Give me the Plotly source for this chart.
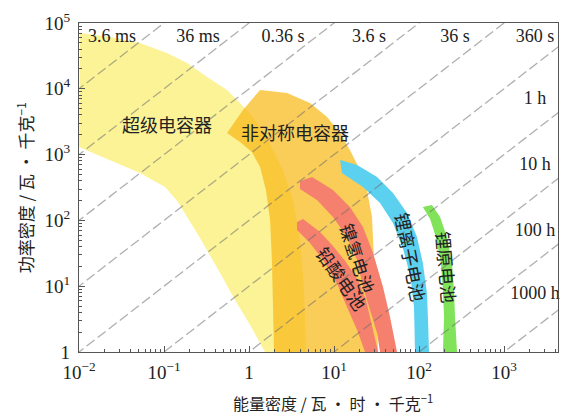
import numpy as np
import plotly.graph_objects as go

# ---------------- data ----------------
# axis ticks
energy_tickvals = [0.01, 0.1, 1, 10, 100, 1000]
energy_ticktext = ["10<sup>−2</sup>", "10<sup>−1</sup>", "1", "10<sup>1</sup>", "10<sup>2</sup>", "10<sup>3</sup>"]
power_tickvals = [1, 10, 100, 1000, 10000, 100000]
power_ticktext = ["1", "10<sup>1</sup>", "10<sup>2</sup>", "10<sup>3</sup>", "10<sup>4</sup>", "10<sup>5</sup>"]

# region outlines: energy density (Wh/kg), power density (W/kg)
supercap_E = [0.0103, 0.0232, 0.0522, 0.108, 0.187, 0.321, 0.551, 0.783, 1.11,
              1.67, 2.44, 3.30, 3.98, 4.44, 4.69,
              1.54, 1.03, 0.684, 0.456, 0.265, 0.146, 0.103, 0.0522, 0.0232, 0.01]
supercap_P = [70500, 61200, 49700, 35000, 24700, 15100, 9600, 6080, 3720,
              1670, 625, 204, 50.4, 8.75, 1,
              1, 2.57, 6.17, 15.9, 54.1, 191, 322, 525, 828, 1306]

asym_E = [1.35, 2.80, 5.22, 8.28, 11.8, 15.4, 20.2, 24.4, 28.0, 29.6, 31.2, 33.0,
          1.97, 1.92, 1.86, 1.77, 1.58, 1.35, 1.08, 0.783, 0.551, 0.849]
asym_P = [9600, 8630, 6080, 3720, 2130, 1175, 583, 290, 113, 25.0, 6.17, 1,
          1, 6.17, 25.0, 101, 290, 649, 1096, 1553, 2130, 4760]

nimh_E = [3.98, 5.51, 9.73, 15.4, 21.9, 28.8, 37.7, 45.6, 55.1,
          34.8, 32.1, 26.5, 21.9, 18.7, 14.2, 9.73, 6.31, 3.98]
nimh_P = [397, 457, 290, 160, 79.4, 32.0, 9.73, 3.40, 1,
          1, 1.95, 4.35, 9.73, 25.0, 56.0, 113, 204, 300]

leadacid_E = [3.67, 4.32, 6.84, 9.73, 13.8, 19.1, 23.8, 28.0, 33.0,
              23.2, 18.7, 14.2, 10.8, 7.43, 5.22, 3.67]
leadacid_P = [94.6, 105, 66.7, 40.8, 23.3, 12.4, 6.17, 2.57, 1,
              1, 2.16, 4.83, 11.2, 25.0, 45.4, 71.4]

liion_E = [11.8, 18.7, 32.1, 49.4, 72.3, 94.6, 111, 124, 128, 131,
           89.7, 87.3, 79.5, 65.5, 49.4, 34.8, 21.9, 12.4]
liion_P = [828, 695, 457, 261, 129, 56.0, 22.5, 7.88, 2.76, 1,
           1, 4.83, 13.8, 35.5, 91.2, 184, 322, 525]

liprim_E = [111, 142, 177, 213, 244, 258, 265, 280,
            191, 197, 191, 181, 158, 135]
liprim_P = [160, 171, 113, 56.0, 22.5, 8.75, 3.40, 1,
            1, 3.40, 8.75, 22.5, 56.0, 105]

# constant discharge-time lines (hours)
time_hours = [1e-7, 1e-6, 1e-5, 1e-4, 1e-3, 1e-2, 1e-1, 1, 10, 100, 1000]
line_E_span = [0.005, 10000]

# time labels (top row and right column)
top_labels = ["3.6 ms", "36 ms", "0.36 s", "3.6 s", "36 s", "360 s"]
top_label_E = [0.0244, 0.251, 2.51, 25.8, 265, 2320]
top_label_P = [61200] * 6
right_labels = ["1 h", "10 h", "100 h", "1000 h"]
right_label_E = [2320] * 4
right_label_P = [6760, 695, 66.7, 7.61]

# region labels
region_labels = ["超级电容器", "非对称电容器", "镍氢电池", "铅酸电池", "锂离子电池", "锂原电池"]
region_label_E = [0.108, 3.47, 19.1, 12.4, 80.5, 213]
region_label_P = [2920, 2200, 26.8, 13.3, 27.8, 19.6]
region_label_angle = [0, 0, 72, 55, 79, 85]
region_label_size = [18, 18, 18, 18, 18, 18]

# ---------------- figure ----------------
CJK = "Noto Sans CJK SC"
SERIF = "Liberation Serif"
TXT = "#222222"

fig = go.Figure()

def region(xs, ys, color):
    fig.add_trace(go.Scatter(x=xs, y=ys, mode="lines", fill="toself",
                             fillcolor=color, line=dict(width=0),
                             hoverinfo="skip", showlegend=False))

region(supercap_E, supercap_P, "#FCF396")
region(asym_E, asym_P, "rgba(248,185,24,0.72)")
region(nimh_E, nimh_P, "#F5806D")
region(leadacid_E, leadacid_P, "#F5806D")
region(liion_E, liion_P, "#5CD0EF")
region(liprim_E, liprim_P, "#80E35A")

for t in time_hours:
    ys = [e / t for e in line_E_span]
    fig.add_trace(go.Scatter(x=line_E_span, y=ys, mode="lines",
                             line=dict(color="rgba(110,110,110,0.55)", width=1.3, dash="10px,4px"),
                             hoverinfo="skip", showlegend=False))

fig.add_trace(go.Scatter(x=top_label_E, y=top_label_P, mode="text", text=top_labels,
                         textfont=dict(family=SERIF, size=18, color=TXT),
                         cliponaxis=False, hoverinfo="skip", showlegend=False))
fig.add_trace(go.Scatter(x=right_label_E, y=right_label_P, mode="text", text=right_labels,
                         textfont=dict(family=SERIF, size=18, color=TXT),
                         cliponaxis=False, hoverinfo="skip", showlegend=False))

for lab, e, p, ang, sz in zip(region_labels, region_label_E, region_label_P,
                              region_label_angle, region_label_size):
    fig.add_annotation(x=np.log10(e), y=np.log10(p), xref="x", yref="y", text=lab,
                       showarrow=False, textangle=ang, xanchor="center", yanchor="middle",
                       font=dict(family=CJK, size=sz, color=TXT))

fig.add_annotation(x=0.53, y=-0.155, xref="paper", yref="paper",
                   text="能量密度 / 瓦 · 时 · 千克<sup>−1</sup>", showarrow=False,
                   xanchor="center", yanchor="middle",
                   font=dict(family=CJK, size=16, color=TXT))
fig.add_annotation(x=-0.113, y=0.50, xref="paper", yref="paper",
                   text="功率密度 / 瓦 · 千克<sup>−1</sup>", showarrow=False, textangle=-90,
                   xanchor="center", yanchor="middle",
                   font=dict(family=CJK, size=17, color=TXT))

minor_E = [m * 10.0 ** k for k in range(-2, 4) for m in range(2, 10)]
minor_P = [m * 10.0 ** k for k in range(0, 5) for m in range(2, 10)]

axis_common = dict(showgrid=False, zeroline=False, showline=True, linecolor="#555555",
                   linewidth=1.3, mirror=True, ticks="inside", ticklen=6, tickwidth=1.2,
                   tickcolor="#555555", tickfont=dict(family=SERIF, size=19, color=TXT),
                   automargin=False)

fig.update_xaxes(type="log", range=[-2, 3.635], tickmode="array",
                 tickvals=energy_tickvals, ticktext=energy_ticktext,
                 ticklabelstandoff=3,
                 minor=dict(tickmode="array", tickvals=minor_E, ticks="inside",
                            ticklen=3, tickcolor="#555555", showgrid=False),
                 **axis_common)
fig.update_yaxes(type="log", range=[0, 5], tickmode="array",
                 tickvals=power_tickvals, ticktext=power_ticktext,
                 ticklabelstandoff=4,
                 minor=dict(tickmode="array", tickvals=minor_P, ticks="inside",
                            ticklen=3, tickcolor="#555555", showgrid=False),
                 **axis_common)

fig.update_layout(width=563, height=417, margin=dict(l=79, r=5, t=23, b=65, autoexpand=False),
                  paper_bgcolor="white", plot_bgcolor="white", showlegend=False)

# remove the default page margin so the figure fills the window exactly
fig.write_html("out.html", config={"displayModeBar": False},
               post_script="document.body.style.margin='0';document.body.style.overflow='hidden';")
